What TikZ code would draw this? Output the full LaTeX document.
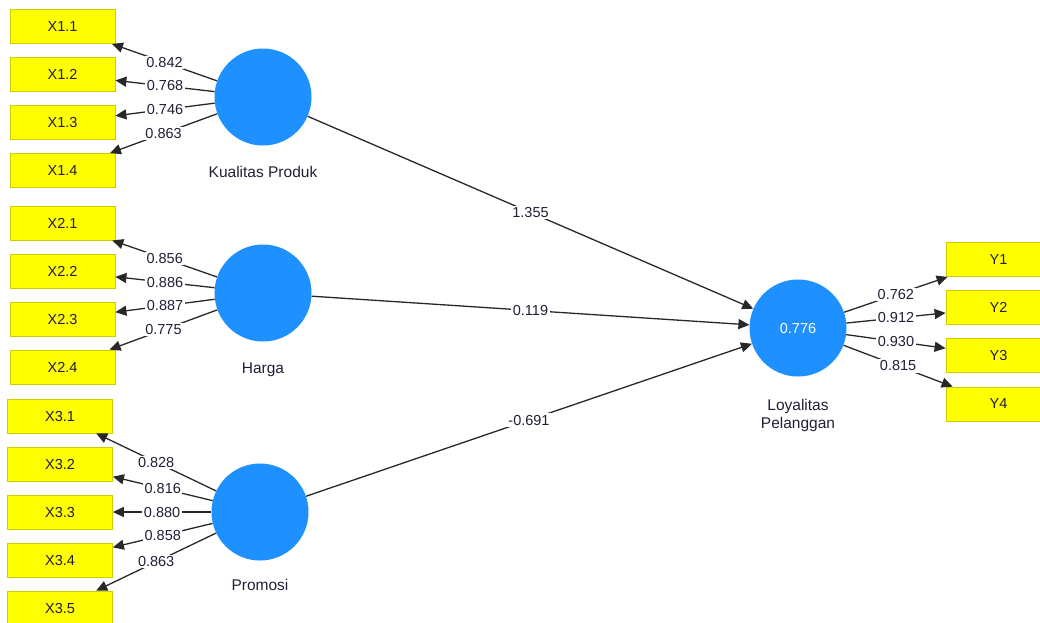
\documentclass[tikz,border=0pt]{standalone}
\usepackage{fontspec}
\setmainfont{Liberation Sans}
\usetikzlibrary{positioning, arrows.meta}
\definecolor{latentblue}{RGB}{30,144,255}
\definecolor{boxyellow}{RGB}{255,255,0}
\definecolor{boxedge}{RGB}{205,205,0}
\definecolor{linegray}{RGB}{40,40,40}
\definecolor{labeltext}{RGB}{35,30,55}

\begin{document}
\begin{tikzpicture}[x=1pt, y=-1pt,
    latent/.style={circle, fill=latentblue, minimum size=97pt, inner sep=0pt, text=white, font=\fontsize{14.5}{16}\selectfont},
    indicator/.style={rectangle, fill=boxyellow, draw=boxedge, line width=0.8pt, minimum width=105pt, minimum height=34pt, inner sep=0pt, text=labeltext, font=\fontsize{14.5}{16}\selectfont},
    conceptname/.style={inner sep=0pt, text height=11pt, text depth=3pt, text=labeltext, font=\fontsize{15.5}{17}\selectfont},
    twolinename/.style={inner sep=0pt, align=center, text=labeltext, font=\fontsize{15.5}{18}\selectfont},
    loading/.style={fill=white, inner sep=1.5pt, text=labeltext, font=\fontsize{14.5}{16}\selectfont},
    link/.style={draw=linegray, line width=1.3pt, -{Triangle[length=11pt,width=10pt]}}]
    \useasboundingbox (0,0) rectangle (1040,622);

    % Latent variables
    \node[latent] (kp) at (263,97) {};
    \node[latent] (hg) at (263,293) {};
    \node[latent] (pr) at (260,512) {};
    \node[latent] (lp) at (798,328) {0.776};
    \node[conceptname, below=21pt of kp] (kplabel) {Kualitas Produk};
    \node[conceptname, below=21pt of hg] (hglabel) {Harga};
    \node[conceptname, below=19pt of pr] (prlabel) {Promosi};
    \node[twolinename, below=22.5pt of lp] (lplabel) {Loyalitas\\Pelanggan};

    % Indicators of Kualitas Produk
    \node[indicator] (x11) at (62.5,26.5) {X1.1};
    \node[indicator] (x12) at (62.5,74.5) {X1.2};
    \node[indicator] (x13) at (62.5,122.5) {X1.3};
    \node[indicator] (x14) at (62.5,170.5) {X1.4};

    % Indicators of Harga
    \node[indicator] (x21) at (62.5,223) {X2.1};
    \node[indicator] (x22) at (62.5,271) {X2.2};
    \node[indicator] (x23) at (62.5,319) {X2.3};
    \node[indicator] (x24) at (62.5,367) {X2.4};

    % Indicators of Promosi
    \node[indicator] (x31) at (60,416) {X3.1};
    \node[indicator] (x32) at (60,464) {X3.2};
    \node[indicator] (x33) at (60,512) {X3.3};
    \node[indicator] (x34) at (60,560) {X3.4};
    \node[indicator] (x35) at (60,608) {X3.5};

    % Indicators of Loyalitas Pelanggan
    \node[indicator] (y1) at (998.5,259.5) {Y1};
    \node[indicator] (y2) at (998.5,307.5) {Y2};
    \node[indicator] (y3) at (998.5,355.5) {Y3};
    \node[indicator] (y4) at (998.5,404) {Y4};

    % Outer loadings
    \draw[link] (kp) -- node[loading] {0.842} (x11);
    \draw[link] (kp) -- node[loading] {0.768} (x12);
    \draw[link] (kp) -- node[loading] {0.746} (x13);
    \draw[link] (kp) -- node[loading] {0.863} (x14);
    \draw[link] (hg) -- node[loading] {0.856} (x21);
    \draw[link] (hg) -- node[loading] {0.886} (x22);
    \draw[link] (hg) -- node[loading] {0.887} (x23);
    \draw[link] (hg) -- node[loading] {0.775} (x24);
    \draw[link] (pr) -- node[loading] {0.828} (x31);
    \draw[link] (pr) -- node[loading] {0.816} (x32);
    \draw[link] (pr) -- node[loading] {0.880} (x33);
    \draw[link] (pr) -- node[loading] {0.858} (x34);
    \draw[link] (pr) -- node[loading] {0.863} (x35);
    \draw[link] (lp) -- node[loading] {0.762} (y1);
    \draw[link] (lp) -- node[loading] {0.912} (y2);
    \draw[link] (lp) -- node[loading] {0.930} (y3);
    \draw[link] (lp) -- node[loading] {0.815} (y4);

    % Path coefficients
    \draw[link] (kp) -- node[loading] {1.355} (lp);
    \draw[link] (hg) -- node[loading] {0.119} (lp);
    \draw[link] (pr) -- node[loading] {-0.691} (lp);
\end{tikzpicture}
\end{document}
